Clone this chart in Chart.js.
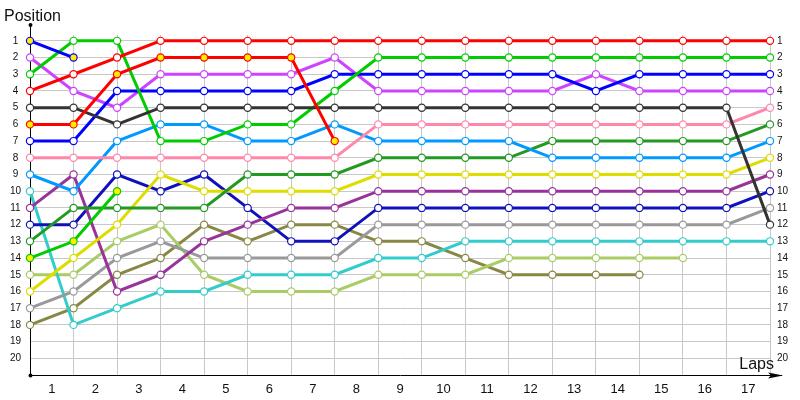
<!DOCTYPE html>
<html lang="en">
<head>
    <meta charset="UTF-8">
    <title>Lap chart</title>
    <script src="https://cdn.jsdelivr.net/npm/chart.js"></script>
    <style>
        body { margin: 0; background: #fff; }
        #wrap { width: 800px; height: 400px; }
    </style>
</head>
<body>
    <div id="wrap"><canvas id="lapChart"></canvas></div>

    <script>
        // lap labels and position ticks
        const lapLabels = ['1', '2', '3', '4', '5', '6', '7', '8', '9', '10', '11', '12', '13', '14', '15', '16', '17'];
        const positionTicks = [1, 2, 3, 4, 5, 6, 7, 8, 9, 10, 11, 12, 13, 14, 15, 16, 17, 18, 19, 20];

        // position of each car at start (index 0) and after every lap
        const redY      = [6, 6, 3, 2, 2, 2, 2, 7];
        const darkGrey  = [5, 5, 6, 5, 5, 5, 5, 5, 5, 5, 5, 5, 5, 5, 5, 5, 5, 12];
        const blueY     = [1, 2];
        const greenY    = [14, 13, 10];
        const red       = [4, 3, 2, 1, 1, 1, 1, 1, 1, 1, 1, 1, 1, 1, 1, 1, 1, 1];
        const green     = [3, 1, 1, 7, 7, 6, 6, 4, 2, 2, 2, 2, 2, 2, 2, 2, 2, 2];
        const blue      = [7, 7, 4, 4, 4, 4, 4, 3, 3, 3, 3, 3, 3, 4, 3, 3, 3, 3];
        const violet    = [2, 4, 5, 3, 3, 3, 3, 2, 4, 4, 4, 4, 4, 3, 4, 4, 4, 4];
        const pink      = [8, 8, 8, 8, 8, 8, 8, 8, 6, 6, 6, 6, 6, 6, 6, 6, 6, 5];
        const skyBlue   = [9, 10, 7, 6, 6, 7, 7, 6, 7, 7, 7, 7, 8, 8, 8, 8, 8, 7];
        const darkGreen = [13, 11, 11, 11, 11, 9, 9, 9, 8, 8, 8, 8, 7, 7, 7, 7, 7, 6];
        const yellow    = [16, 14, 12, 9, 10, 10, 10, 10, 9, 9, 9, 9, 9, 9, 9, 9, 9, 8];
        const purple    = [11, 9, 16, 15, 13, 12, 11, 11, 10, 10, 10, 10, 10, 10, 10, 10, 10, 9];
        const navy      = [12, 12, 9, 10, 9, 11, 13, 13, 11, 11, 11, 11, 11, 11, 11, 11, 11, 10];
        const grey      = [17, 16, 14, 13, 14, 14, 14, 14, 12, 12, 12, 12, 12, 12, 12, 12, 12, 11];
        const cyan      = [10, 18, 17, 16, 16, 15, 15, 15, 14, 14, 13, 13, 13, 13, 13, 13, 13, 13];
        const lightGreen = [15, 15, 13, 12, 15, 16, 16, 16, 15, 15, 15, 14, 14, 14, 14, 14];
        const olive     = [18, 17, 15, 14, 12, 13, 12, 12, 13, 13, 14, 15, 15, 15, 15];

        function makeSet(name, values, color, fill) {
            return {
                label: name,
                data: values.map((p, i) => ({ x: i, y: p })),
                borderColor: color,
                borderWidth: 3,
                pointRadius: 3.6,
                pointHoverRadius: 3.6,
                pointBorderWidth: 1.2,
                pointBorderColor: color,
                pointBackgroundColor: fill || '#ffffff',
                tension: 0,
                clip: false
            };
        }

        // axis arrow, dots and the two axis captions
        const axisDecor = {
            id: 'axisDecor',
            afterDraw(chart) {
                const c = chart.ctx;
                const a = chart.chartArea;
                c.save();
                c.strokeStyle = '#000';
                c.fillStyle = '#000';
                c.lineWidth = 1;
                c.beginPath();
                c.moveTo(a.left + 0.5, a.top);
                c.lineTo(a.left + 0.5, 25);
                c.moveTo(a.right, a.bottom + 0.5);
                c.lineTo(782, a.bottom + 0.5);
                c.stroke();
                c.beginPath();
                c.arc(a.left + 0.5, 25, 2, 0, Math.PI * 2);
                c.arc(a.left + 0.5, a.bottom + 0.5, 2, 0, Math.PI * 2);
                c.fill();
                c.beginPath();
                c.moveTo(783, a.bottom + 0.5);
                c.lineTo(768, a.bottom - 2.5);
                c.lineTo(771, a.bottom + 0.5);
                c.lineTo(768, a.bottom + 3.5);
                c.closePath();
                c.fill();
                c.font = '16px "Liberation Sans", Arial, sans-serif';
                c.fillStyle = '#111';
                c.textAlign = 'left';
                c.fillText('Position', 4, 21);
                c.textAlign = 'right';
                c.fillText('Laps', 774, 369);
                c.restore();
            }
        };

        const ctx = document.getElementById('lapChart').getContext('2d');
        const lapChart = new Chart(ctx, {
            type: 'line',
            data: {
                datasets: [
                    makeSet('Car 6', redY, '#ff0000', '#ffee00'),
                    makeSet('Car 5', darkGrey, '#333333'),
                    makeSet('Car 1', blueY, '#0000ff', '#ffee00'),
                    makeSet('Car 14', greenY, '#00cc00', '#ffee00'),
                    makeSet('Car 4', red, '#ff0000'),
                    makeSet('Car 3', green, '#00cc00'),
                    makeSet('Car 7', blue, '#0000ff'),
                    makeSet('Car 2', violet, '#cc44ff'),
                    makeSet('Car 8', pink, '#ff88aa'),
                    makeSet('Car 9', skyBlue, '#0099ff'),
                    makeSet('Car 13', darkGreen, '#229922'),
                    makeSet('Car 16', yellow, '#dddd00'),
                    makeSet('Car 11', purple, '#993399'),
                    makeSet('Car 12', navy, '#1111bb'),
                    makeSet('Car 17', grey, '#999999'),
                    makeSet('Car 10', cyan, '#33cccc'),
                    makeSet('Car 15', lightGreen, '#aacc66'),
                    makeSet('Car 18', olive, '#888844')
                ]
            },
            options: {
                responsive: true,
                maintainAspectRatio: false,
                animation: false,
                layout: { padding: { top: 35, left: 0, right: 0, bottom: 0 } },
                plugins: {
                    legend: { display: false },
                    tooltip: { enabled: false }
                },
                scales: {
                    x: {
                        type: 'linear',
                        min: 0,
                        max: 17,
                        afterBuildTicks: (scale) => {
                            const t = [];
                            for (let i = 0; i <= 34; i++) t.push({ value: i / 2 });
                            scale.ticks = t;
                        },
                        afterFit: (scale) => { scale.height = 25; },
                        ticks: {
                            autoSkip: false,
                            maxRotation: 0,
                            padding: 7,
                            color: '#111',
                            font: { family: '"Liberation Sans", Arial, sans-serif', size: 13 },
                            callback: (v) => Number.isInteger(v) ? '' : lapLabels[Math.floor(v)]
                        },
                        grid: {
                            drawTicks: false,
                            color: (c) => (c.tick && Number.isInteger(c.tick.value)) ? '#c8c8c8' : 'rgba(0,0,0,0)'
                        },
                        border: { color: '#000', width: 1 }
                    },
                    y: {
                        type: 'linear',
                        position: 'left',
                        reverse: true,
                        min: 0.65,
                        max: 21,
                        afterBuildTicks: (scale) => {
                            scale.ticks = positionTicks.map(v => ({ value: v }));
                        },
                        afterFit: (scale) => { scale.width = 30; },
                        ticks: {
                            padding: 9,
                            crossAlign: 'center',
                            color: '#111',
                            font: { family: '"Liberation Sans", Arial, sans-serif', size: 10 }
                        },
                        grid: { drawTicks: false, color: '#c8c8c8' },
                        border: { color: '#000', width: 1 }
                    },
                    y2: {
                        type: 'linear',
                        position: 'right',
                        reverse: true,
                        min: 0.65,
                        max: 21,
                        afterBuildTicks: (scale) => {
                            scale.ticks = positionTicks.map(v => ({ value: v }));
                        },
                        afterFit: (scale) => { scale.width = 30; },
                        ticks: {
                            padding: 7,
                            color: '#111',
                            font: { family: '"Liberation Sans", Arial, sans-serif', size: 10 }
                        },
                        grid: { display: false, drawTicks: false },
                        border: { display: false }
                    }
                }
            },
            plugins: [axisDecor]
        });
    </script>
</body>
</html>
